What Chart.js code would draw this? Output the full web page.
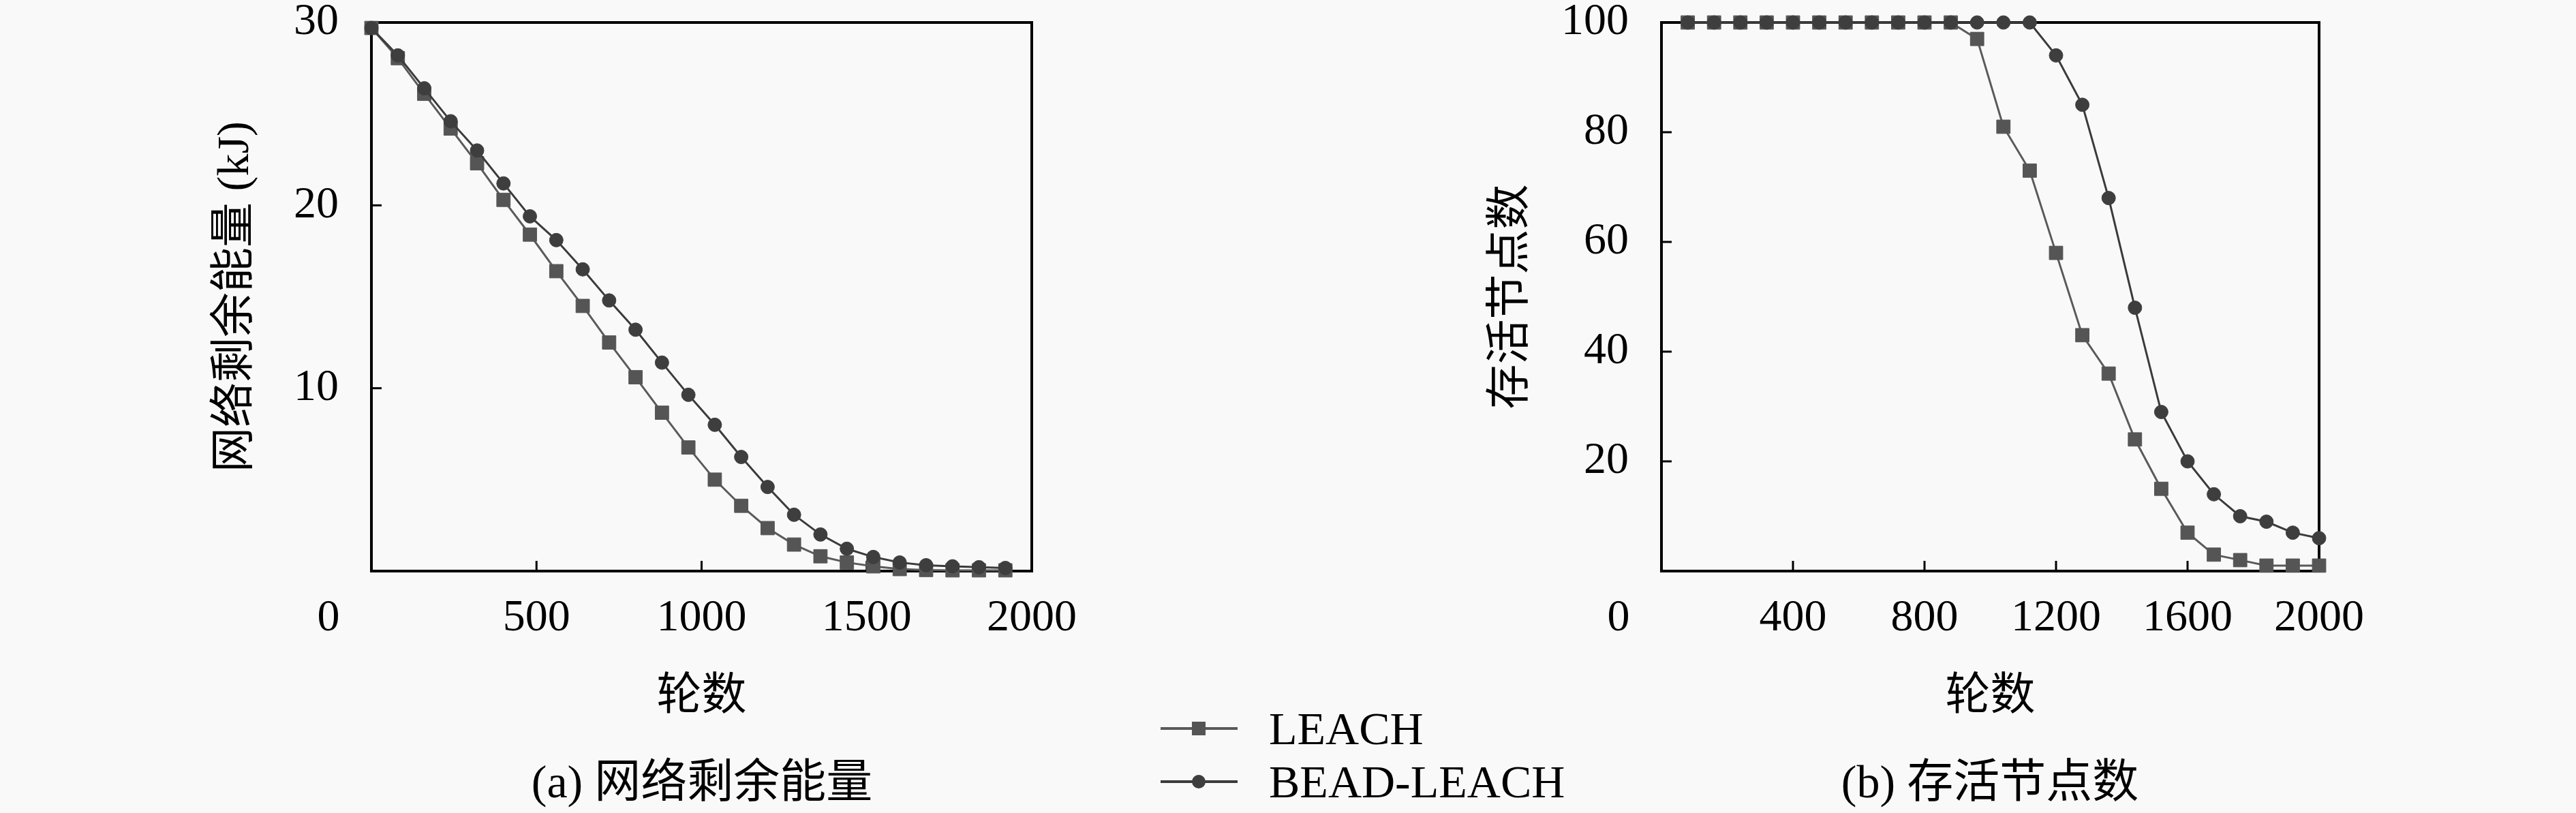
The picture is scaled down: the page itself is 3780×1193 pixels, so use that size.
<!DOCTYPE html>
<html>
<head>
<meta charset="utf-8">
<script src="https://cdn.jsdelivr.net/npm/chart.js@4.4.1/dist/chart.umd.min.js"></script>
<style>
  html, body { margin: 0; padding: 0; background: #f9f9f9; }
  body {
    width: 3780px; height: 1193px; position: relative; overflow: hidden;
    font-family: "Liberation Serif", "Noto Sans CJK SC", serif; color: #000;
  }
  canvas { position: absolute; top: 0; }
  #energy { left: 0; }
  #alive { left: 1900px; }
  .caption {
    position: absolute; font-size: 68px; line-height: 1; white-space: nowrap;
    transform: translate(-50%, -50%);
  }
  #legend { position: absolute; left: 1703px; top: 1030px; margin: 0; padding: 0; list-style: none; }
  #legend li { display: flex; align-items: center; height: 78px; font-size: 68px; white-space: nowrap; }
</style>
</head>
<body>
<canvas id="energy" width="1600" height="1100"></canvas>
<canvas id="alive" width="1600" height="1100"></canvas>
<ul id="legend"></ul>
<div class="caption" style="left:1030px; top:1147px;">(a) 网络剩余能量</div>
<div class="caption" style="left:2920px; top:1147px;">(b) 存活节点数</div>

<script>
// (a) remaining network energy, kJ
const energyRounds = [0, 80, 160, 240, 320, 400, 480, 560, 640, 720, 800, 880, 960,
  1040, 1120, 1200, 1280, 1360, 1440, 1520, 1600, 1680, 1760, 1840, 1920];
const energyLEACH = [29.7, 28.05, 26.1, 24.2, 22.3, 20.3, 18.4, 16.4, 14.5, 12.5, 10.6, 8.66, 6.76,
  5.0, 3.57, 2.35, 1.45, 0.81, 0.47, 0.26, 0.11, 0.06, 0.04, 0.04, 0.04];
const energyBEAD = [29.7, 28.2, 26.4, 24.6, 23.0, 21.2, 19.4, 18.1, 16.5, 14.8, 13.2, 11.4, 9.64,
  8.0, 6.24, 4.6, 3.08, 2.0, 1.22, 0.77, 0.47, 0.32, 0.26, 0.21, 0.17];

// (b) alive nodes
const aliveRounds = [80, 160, 240, 320, 400, 480, 560, 640, 720, 800, 880, 960, 1040,
  1120, 1200, 1280, 1360, 1440, 1520, 1600, 1680, 1760, 1840, 1920, 2000];
const aliveLEACH = [100, 100, 100, 100, 100, 100, 100, 100, 100, 100, 100, 97, 81,
  73, 58, 43, 36, 24, 15, 7, 3, 2, 1, 1, 1];
const aliveBEAD = [100, 100, 100, 100, 100, 100, 100, 100, 100, 100, 100, 100, 100,
  100, 94, 85, 68, 48, 29, 20, 14, 10, 9, 7, 6];

const seriesNames = ['LEACH', 'BEAD-LEACH'];
const energyXTicks = [0, 500, 1000, 1500, 2000];
const energyYTicks = [0, 10, 20, 30];
const aliveXTicks = [0, 400, 800, 1200, 1600, 2000];
const aliveYTicks = [0, 20, 40, 60, 80, 100];

const FONT = '"Liberation Serif", "Noto Sans CJK SC", serif';
const TICK_SIZE = 66;
const TITLE_SIZE = 66;
const CANVAS_H = 1100;
const PLOT_TOP = 33;
const PLOT_BOTTOM = 838;
const X_LABEL_Y = 908;
const X_TITLE_Y = 1024;

const styles = [
  { line: '#5a5a5a', point: '#555555', pointStyle: 'rect', radius: 14 },
  { line: '#3b3b3b', point: '#3e3e3e', pointStyle: 'circle', radius: 10 },
];

Chart.defaults.font.family = FONT;
Chart.defaults.color = '#000';

function toPoints(xs, ys) {
  return xs.map((x, i) => ({ x: x, y: ys[i] }));
}

// frame + inward tick marks, drawn under the datasets
const framePlugin = {
  id: 'frame',
  beforeDatasetsDraw(c) {
    const { ctx, chartArea: a } = c;
    const xs = c.scales.x, ys = c.scales.y;
    ctx.save();
    ctx.strokeStyle = '#000';
    ctx.lineWidth = 3;
    xs.ticks.forEach((t) => {
      if (t.value <= xs.min || t.value >= xs.max) return;
      const px = xs.getPixelForValue(t.value);
      ctx.beginPath(); ctx.moveTo(px, a.bottom); ctx.lineTo(px, a.bottom - 15); ctx.stroke();
    });
    ys.ticks.forEach((t) => {
      if (t.value <= ys.min || t.value >= ys.max) return;
      const py = ys.getPixelForValue(t.value);
      ctx.beginPath(); ctx.moveTo(a.left, py); ctx.lineTo(a.left + 15, py); ctx.stroke();
    });
    ctx.lineWidth = 4;
    ctx.strokeRect(a.left, a.top, a.right - a.left, a.bottom - a.top);
    // shared origin label, sits below-left of the corner
    ctx.fillStyle = '#000';
    ctx.font = TICK_SIZE + 'px ' + FONT;
    ctx.textAlign = 'center';
    ctx.textBaseline = 'middle';
    ctx.fillText('0', a.left - 63, X_LABEL_Y);
    ctx.restore();
  },
};

function makeChart(id, cfg) {
  const canvasLeft = cfg.canvasLeft;
  const yWidth = cfg.plotLeft - canvasLeft;
  const rightPad = canvasLeft + 1600 - cfg.plotRight;
  const titleLH = TITLE_SIZE * 1.2;

  const datasets = cfg.series.map((vals, i) => ({
    label: seriesNames[i],
    data: toPoints(cfg.rounds, vals),
    borderColor: styles[i].line,
    borderWidth: 3,
    pointStyle: styles[i].pointStyle,
    pointRadius: styles[i].radius,
    pointHoverRadius: styles[i].radius,
    pointBackgroundColor: styles[i].point,
    pointBorderColor: styles[i].point,
    pointBorderWidth: 1,
    tension: 0,
    clip: false,
    order: i === 1 ? 0 : 1,
  }));

  return new Chart(document.getElementById(id), {
    type: 'line',
    data: { datasets: datasets },
    options: {
      responsive: false,
      animation: false,
      devicePixelRatio: 1,
      layout: { padding: { top: PLOT_TOP, right: rightPad, left: 0, bottom: 0 } },
      scales: {
        x: {
          type: 'linear',
          min: 0,
          max: 2000,
          afterBuildTicks: (s) => { s.ticks = cfg.xTicks.map((v) => ({ value: v })); },
          afterFit: (s) => { s.height = CANVAS_H - PLOT_BOTTOM; s.paddingLeft = 0; s.paddingRight = 0; },
          border: { display: false },
          grid: { display: false, drawTicks: false },
          ticks: {
            font: { size: TICK_SIZE, lineHeight: 1 },
            padding: X_LABEL_Y - PLOT_BOTTOM - TICK_SIZE / 2,
            maxRotation: 0,
            autoSkip: false,
            callback: (v) => (v === 0 ? '' : String(v)),
          },
          title: {
            display: true,
            text: '轮数',
            font: { size: TITLE_SIZE, lineHeight: 1.2 },
            padding: { top: 0, bottom: CANVAS_H - X_TITLE_Y - titleLH / 2 },
          },
        },
        y: {
          min: 0,
          max: cfg.yMax,
          afterBuildTicks: (s) => { s.ticks = cfg.yTicks.map((v) => ({ value: v })); },
          afterFit: (s) => { s.width = yWidth; s.paddingTop = 0; s.paddingBottom = 0; },
          border: { display: false },
          grid: { display: false, drawTicks: false },
          ticks: {
            font: { size: TICK_SIZE, lineHeight: 1 },
            padding: 48,
            autoSkip: false,
            callback: (v) => (v === 0 ? '' : String(v)),
          },
          title: {
            display: true,
            text: cfg.yTitle,
            font: { size: TITLE_SIZE, lineHeight: 1.2 },
            padding: { top: cfg.yTitleX - canvasLeft - titleLH / 2, bottom: 0 },
          },
        },
      },
      plugins: {
        legend: { display: false },
        tooltip: { enabled: false },
      },
    },
    plugins: [framePlugin],
  });
}

const energyChart = makeChart('energy', {
  canvasLeft: 0, plotLeft: 545, plotRight: 1514, yTitleX: 347,
  rounds: energyRounds, series: [energyLEACH, energyBEAD],
  xTicks: energyXTicks, yTicks: energyYTicks, yMax: 30,
  yTitle: '网络剩余能量 (kJ)',
});

makeChart('alive', {
  canvasLeft: 1900, plotLeft: 2438, plotRight: 3403, yTitleX: 2219,
  rounds: aliveRounds, series: [aliveLEACH, aliveBEAD],
  xTicks: aliveXTicks, yTicks: aliveYTicks, yMax: 100,
  yTitle: '存活节点数',
});

// shared legend under the two panels, built from the first chart's datasets
const ul = document.getElementById('legend');
energyChart.data.datasets.forEach((ds, i) => {
  const li = document.createElement('li');
  const line = document.createElement('span');
  line.style.position = 'relative';
  line.style.display = 'inline-block';
  line.style.width = '113px';
  line.style.height = '4px';
  line.style.background = ds.borderColor;
  line.style.marginRight = '46px';
  const mark = document.createElement('span');
  mark.style.position = 'absolute';
  mark.style.left = '46px';
  mark.style.top = '-8px';
  mark.style.width = '20px';
  mark.style.height = '20px';
  mark.style.background = ds.pointBackgroundColor;
  mark.style.borderRadius = styles[i].pointStyle === 'circle' ? '50%' : '0';
  line.appendChild(mark);
  li.appendChild(line);
  li.appendChild(document.createTextNode(ds.label));
  ul.appendChild(li);
});
</script>
</body>
</html>
